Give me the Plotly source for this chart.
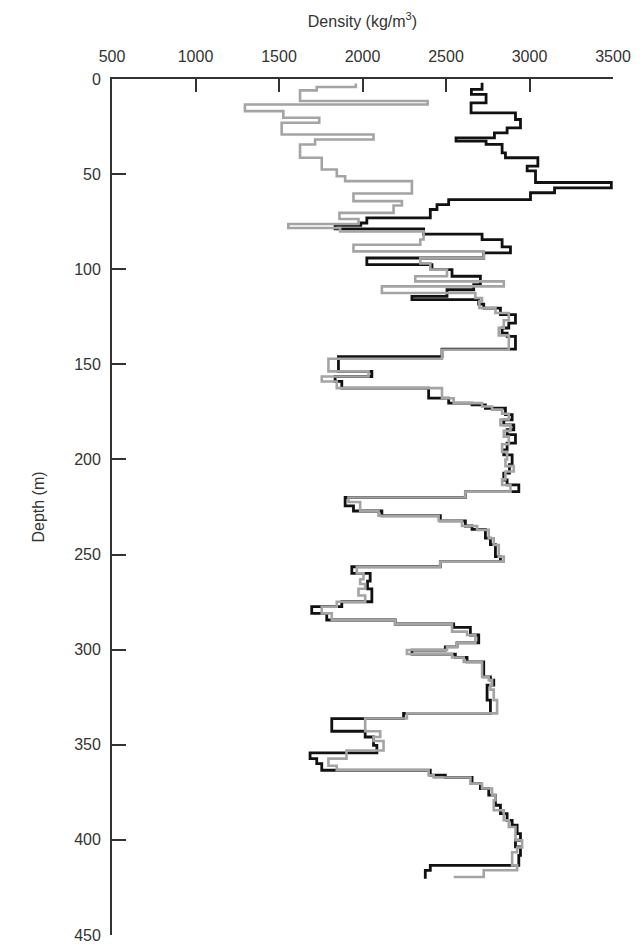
import plotly.graph_objects as go

# ---- Black log (density kg/m3 by interval top depth m) ----
black_depth = [2.0, 5.5, 8.1, 12.5, 17.8, 21.3, 25.7, 28.3, 30.9, 32.7, 34.4, 38.8, 41.4, 45.8, 48.3,
               54.4, 57.2, 59.8, 63.4, 66.0, 68.6, 73.0, 75.7, 76.9, 78.8, 81.5, 84.4, 88.3, 91.4,
               94.1, 97.6, 100.2, 103.7, 108.1, 110.8, 114.3, 116.0, 118.3, 120.4, 123.9, 128.3,
               130.9, 133.6, 135.3, 142.0, 146.0, 153.7, 156.4, 159.0, 162.5, 167.8, 170.4, 171.3,
               173.1, 176.4, 179.2, 181.8, 184.4, 187.0, 191.4, 195.0, 197.6, 202.8, 207.2, 210.8,
               213.4, 216.9, 220.0, 224.4, 227.1, 229.6, 232.3, 235.0, 236.8, 241.4, 244.8, 251.1,
               253.7, 256.4, 259.9, 264.0, 268.0, 274.8, 277.4, 280.9, 284.4, 286.5, 288.3, 292.3,
               296.4, 298.5, 300.2, 302.3, 304.1, 306.4, 314.3, 316.0, 318.6, 326.5, 333.5, 336.2,
               342.9, 345.9, 350.3, 354.3, 357.3, 359.9, 363.4, 366.0, 367.2, 370.4, 373.0, 376.5,
               381.8, 386.2, 389.7, 392.3, 396.7, 400.2, 403.7, 408.1, 413.4, 416.0, 420.4]
black_density = [2716, 2652, 2740, 2650, 2916, 2946, 2866, 2790, 2560, 2740, 2836, 2856, 3050, 2986, 3036,
                 3490, 3150, 3006, 2516, 2446, 2406, 2026, 1990, 1836, 2366, 2716, 2836, 2886, 2726,
                 2026, 2416, 2536, 2706, 2666, 2506, 2296, 2696, 2726, 2826, 2916, 2876,
                 2836, 2866, 2916, 2476, 1856, 2056, 1836, 1876, 2396, 2516, 2656, 2736,
                 2856, 2896, 2846, 2906, 2866, 2916, 2866, 2846, 2896, 2880, 2846, 2866,
                 2936, 2616, 1896, 1946, 2116, 2466, 2616, 2656, 2736, 2766, 2796, 2826,
                 2466, 1936, 2046, 2030, 2056, 1876, 1696, 1786, 2196, 2546, 2646, 2696,
                 2566, 2496, 2296, 2556, 2626, 2726, 2766, 2786, 2746, 2766, 2246, 1816,
                 2016, 2066, 2086, 1686, 1726, 1756, 2406, 2496, 2656, 2706, 2756, 2796,
                 2826, 2866, 2896, 2926, 2946, 2916, 2946, 2936, 2406, 2376, 2376]

# ---- Grey log ----
grey_depth = [2.3, 4.2, 6.0, 11.6, 13.4, 16.9, 20.4, 23.0, 29.2, 31.8, 34.4, 41.4, 47.6, 51.1, 53.7,
              60.2, 64.2, 66.5, 70.4, 73.6, 76.2, 78.3, 80.1, 84.4, 87.1, 90.6, 94.1, 96.9, 100.2,
              103.7, 106.4, 109.0, 112.5, 115.1, 116.9, 120.4, 123.0, 126.8, 130.8, 134.8, 142.3,
              147.1, 153.7, 156.4, 159.0, 162.5, 167.8, 170.4, 172.2, 173.8, 176.0, 179.0, 182.0,
              185.0, 188.0, 192.0, 196.0, 200.0, 203.5, 206.3, 210.5, 213.4, 216.9, 220.0, 222.4,
              227.1, 229.6, 232.3, 235.0, 237.0, 241.4, 245.0, 251.1, 253.7, 256.4, 259.9, 263.0,
              265.5, 268.0, 271.5, 274.8, 277.4, 280.9, 284.4, 286.5, 290.5, 292.3, 296.4, 298.5,
              300.2, 302.3, 304.1, 306.4, 314.3, 316.0, 318.6, 321.0, 326.5, 333.5, 336.2, 342.9,
              345.9, 348.0, 353.0, 357.3, 361.0, 363.4, 366.0, 367.2, 370.4, 373.0, 376.5, 379.2,
              384.4, 389.7, 393.2, 400.2, 404.0, 406.5, 413.4, 416.0, 419.5]
grey_density = [1960, 1726, 1626, 2390, 1296, 1526, 1741, 1516, 2066, 1716, 1626, 1756, 1846, 1896, 2296,
                1946, 2236, 2186, 1862, 1976, 1556, 1866, 2366, 2346, 1946, 2726, 2346, 2406, 2506,
                2316, 2846, 2116, 2676, 2716, 2700, 2796, 2876, 2846, 2816, 2876, 2476,
                1796, 2036, 1756, 1846, 2476, 2546, 2716, 2776, 2836, 2876, 2826, 2886,
                2846, 2876, 2836, 2866, 2856, 2906, 2856, 2836, 2886, 2616, 1916, 1986,
                2096, 2456, 2596, 2686, 2756, 2786, 2816, 2846, 2466, 1966, 2006, 1986,
                2016, 1976, 2016, 1846, 1756, 1816, 2196, 2536, 2626, 2676, 2566, 2506,
                2266, 2536, 2606, 2716, 2756, 2776, 2766, 2786, 2806, 2266, 2016, 2106,
                2066, 2126, 1904, 1796, 1846, 2396, 2426, 2646, 2716, 2776, 2796, 2786,
                2846, 2876, 2916, 2956, 2926, 2896, 2926, 2726, 2546, 2546]

x_ticks = [500, 1000, 1500, 2000, 2500, 3000, 3500]
y_ticks = [0, 50, 100, 150, 200, 250, 300, 350, 400, 450]

fig = go.Figure()
fig.add_trace(go.Scatter(x=black_density, y=black_depth, mode="lines", line_shape="vh",
                         line=dict(color="#111111", width=2.8), showlegend=False))
fig.add_trace(go.Scatter(x=grey_density, y=grey_depth, mode="lines", line_shape="vh",
                         line=dict(color="#a4a4a4", width=2.6), showlegend=False))

axis_font = dict(family="Liberation Sans, Arial, sans-serif", size=16, color="#333333")
# page body has an 8px default margin, so the figure is sized 636x940
fig.update_layout(
    width=636, height=940,
    margin=dict(l=104, r=31, t=71, b=13, autoexpand=False),
    paper_bgcolor="white", plot_bgcolor="white",
    font=axis_font,
    xaxis=dict(range=[500, 3500], side="top", tickvals=x_ticks, ticks="inside", ticklen=13,
               tickwidth=1.5, tickcolor="#333333", showline=True, linecolor="#333333", linewidth=1.8,
               showgrid=False, zeroline=False, tickfont=axis_font, ticklabelstandoff=9,
               automargin=False,
               title=dict(text="Density (kg/m<sup>3</sup>)", font=axis_font, standoff=16)),
    yaxis=dict(range=[450, 0], tickvals=y_ticks, ticks="inside", ticklen=14,
               tickwidth=1.5, tickcolor="#333333", showline=True, linecolor="#333333", linewidth=1.8,
               showgrid=False, zeroline=False, tickfont=axis_font, ticklabelstandoff=6,
               automargin=False,
               title=dict(text="Depth (m)", font=axis_font, standoff=26)),
)

fig.write_html("out.html")
